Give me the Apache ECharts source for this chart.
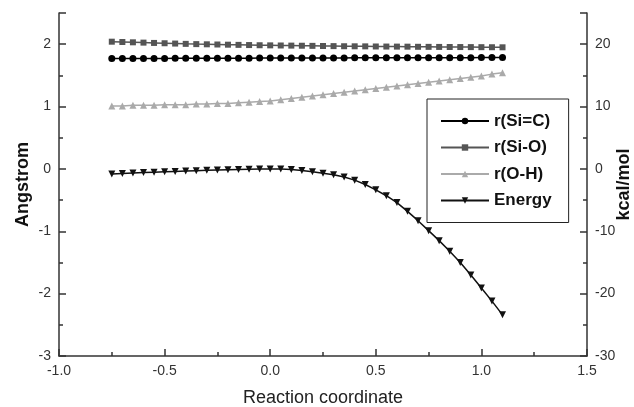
<!DOCTYPE html>
<html>
<head>
<meta charset="utf-8">
<script src="https://cdn.jsdelivr.net/npm/echarts@6/dist/echarts.min.js"></script>
<style>
html,body{margin:0;padding:0;background:#fff;}
#c{width:634px;height:407px;}
</style>
</head>
<body>
<div id="c"></div>
<script>
var coord = [-0.75,-0.70,-0.65,-0.60,-0.55,-0.50,-0.45,-0.40,-0.35,-0.30,-0.25,-0.20,-0.15,-0.10,-0.05,0.00,0.05,0.10,0.15,0.20,0.25,0.30,0.35,0.40,0.45,0.50,0.55,0.60,0.65,0.70,0.75,0.80,0.85,0.90,0.95,1.00,1.05,1.10];
var rSiC = [1.770,1.770,1.771,1.771,1.772,1.772,1.773,1.773,1.774,1.774,1.775,1.775,1.776,1.776,1.777,1.777,1.778,1.778,1.779,1.779,1.780,1.780,1.780,1.781,1.781,1.781,1.782,1.782,1.782,1.783,1.783,1.783,1.784,1.784,1.784,1.785,1.785,1.785];
var rSiO = [2.040,2.035,2.030,2.025,2.020,2.015,2.010,2.005,2.001,1.998,1.995,1.992,1.989,1.986,1.983,1.981,1.979,1.977,1.975,1.973,1.971,1.969,1.967,1.966,1.965,1.963,1.962,1.961,1.960,1.958,1.957,1.956,1.955,1.954,1.953,1.952,1.951,1.950];
var rOH = [1.01,1.01,1.02,1.02,1.02,1.03,1.03,1.03,1.04,1.04,1.05,1.05,1.06,1.07,1.08,1.09,1.11,1.13,1.15,1.17,1.19,1.21,1.23,1.25,1.27,1.29,1.31,1.33,1.35,1.37,1.39,1.41,1.43,1.45,1.47,1.49,1.52,1.54];
var energy = [-0.80,-0.72,-0.65,-0.58,-0.52,-0.46,-0.40,-0.34,-0.28,-0.23,-0.18,-0.13,-0.09,-0.05,-0.02,0.00,-0.02,-0.10,-0.25,-0.45,-0.68,-0.95,-1.30,-1.80,-2.50,-3.35,-4.30,-5.40,-6.80,-8.30,-9.90,-11.50,-13.20,-15.00,-17.00,-19.10,-21.20,-23.40];
var names = ['r(Si=C)','r(Si-O)','r(O-H)','Energy'];

function pairs(v){ return coord.map(function(x,i){ return [x, v[i]]; }); }

var axisCol = '#333';
var labelStyle = {color:'#333', fontSize:14, fontFamily:'Liberation Sans, Arial, sans-serif'};

var chart = echarts.init(document.getElementById('c'));
chart.setOption({
  animation:false,
  backgroundColor:'#fff',
  grid:{left:59, right:47, top:13, bottom:51, containLabel:false, outerBoundsMode:'none'},
  legend:{
    orient:'vertical', left:427, top:99,
    data:names,
    itemWidth:48, itemHeight:8, itemGap:8.5,
    padding:[13,17,13,13],
    borderColor:'#222', borderWidth:1,
    textStyle:{color:'#111', fontSize:17, lineHeight:18, fontWeight:'bold', fontFamily:'Liberation Sans, Arial, sans-serif'},
    itemStyle:{borderWidth:0}
  },
  xAxis:{
    type:'value', min:-1, max:1.5, interval:0.5,
    name:'Reaction coordinate', nameLocation:'middle', nameGap:33, nameMoveOverlap:false,
    nameTextStyle:{color:'#222', fontSize:18, fontFamily:'Liberation Sans, Arial, sans-serif'},
    axisLine:{show:true, onZero:false, lineStyle:{color:axisCol, width:1.5}},
    axisTick:{show:true, inside:true, length:7, lineStyle:{color:axisCol, width:1.5}},
    minorTick:{show:true, splitNumber:2, length:4, lineStyle:{color:axisCol, width:1.5}},
    splitLine:{show:false},
    axisLabel:Object.assign({margin:8, formatter:function(v){return v.toFixed(1);}}, labelStyle)
  },
  yAxis:[{
    type:'value', min:-3, max:2.5, interval:1, position:'left',
    name:'Angstrom', nameLocation:'middle', nameGap:27, nameRotate:90, nameMoveOverlap:false,
    nameTextStyle:{color:'#111', fontSize:18, fontWeight:'bold', fontFamily:'Liberation Sans, Arial, sans-serif'},
    axisLine:{show:true, onZero:false, lineStyle:{color:axisCol, width:1.5}},
    axisTick:{show:true, inside:true, length:7, lineStyle:{color:axisCol, width:1.5}},
    minorTick:{show:true, splitNumber:2, length:4, lineStyle:{color:axisCol, width:1.5}},
    splitLine:{show:false},
    axisLabel:Object.assign({margin:8, showMaxLabel:false}, labelStyle)
  },{
    type:'value', min:-30, max:25, interval:10, position:'right',
    name:'kcal/mol', nameLocation:'middle', nameGap:28, nameRotate:90, nameMoveOverlap:false,
    nameTextStyle:{color:'#111', fontSize:18, fontWeight:'bold', fontFamily:'Liberation Sans, Arial, sans-serif'},
    axisLine:{show:true, onZero:false, lineStyle:{color:axisCol, width:1.5}},
    axisTick:{show:true, inside:true, length:7, lineStyle:{color:axisCol, width:1.5}},
    minorTick:{show:true, splitNumber:2, length:4, lineStyle:{color:axisCol, width:1.5}},
    splitLine:{show:false},
    axisLabel:Object.assign({margin:8, showMaxLabel:false}, labelStyle)
  }],
  series:[
    {name:names[0], type:'line', data:pairs(rSiC), yAxisIndex:0, symbol:'circle', symbolSize:7,
     lineStyle:{color:'#000', width:1.5}, itemStyle:{color:'#000'}},
    {name:names[1], type:'line', data:pairs(rSiO), yAxisIndex:0, symbol:'rect', symbolSize:6,
     lineStyle:{color:'#555', width:1.5}, itemStyle:{color:'#555'}},
    {name:names[2], type:'line', data:pairs(rOH), yAxisIndex:0, symbol:'triangle', symbolSize:7,
     lineStyle:{color:'#aaa', width:1.5}, itemStyle:{color:'#aaa'}},
    {name:names[3], type:'line', data:pairs(energy), yAxisIndex:1, symbol:'triangle', symbolRotate:180, symbolSize:7,
     lineStyle:{color:'#111', width:1.5}, itemStyle:{color:'#111'}}
  ]
});
</script>
</body>
</html>
